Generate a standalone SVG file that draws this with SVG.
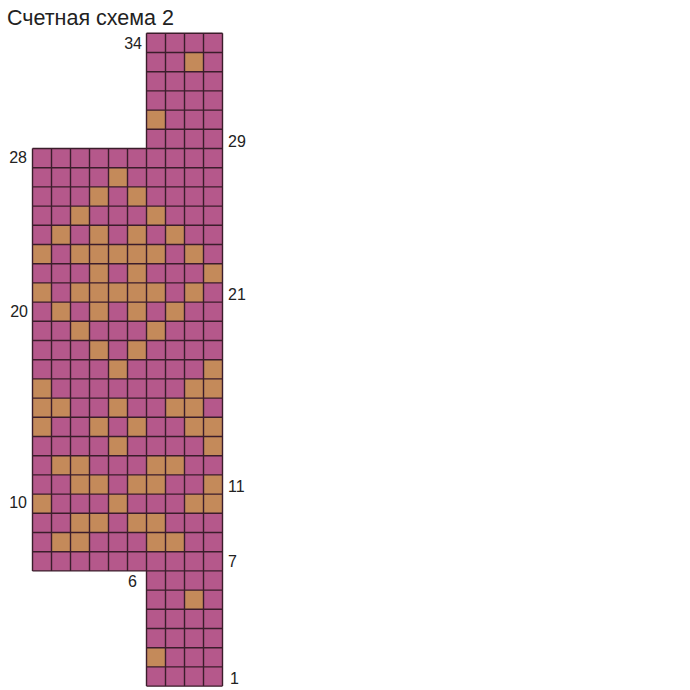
<svg xmlns="http://www.w3.org/2000/svg" width="690" height="690" viewBox="0 0 690 690">
<style>
.bg{fill:#b5588b}
.o{fill:#c48a5a}
.grid{fill:none;stroke:#3b1d2b;stroke-width:1.4}
.lbl{font-family:"Liberation Sans",Arial,sans-serif;font-size:16px;fill:#222}
.title{font-family:"Liberation Sans",Arial,sans-serif;font-size:21.5px;fill:#222}
</style>
<defs><rect id="c" width="19" height="19.2" class="o"/></defs>
<rect width="690" height="690" fill="#fff"/>
<text class="title" x="7" y="25">Счетная схема 2</text>
<g id="chart">
<rect class="bg" x="146.5" y="33.3" width="76" height="115.2"/>
<rect class="bg" x="32.5" y="148.5" width="190" height="422.4"/>
<rect class="bg" x="146.5" y="570.9" width="76" height="115.2"/>
<g id="tan">
<use href="#c" x="184.5" y="52.5"/>
<use href="#c" x="146.5" y="110.1"/>
<use href="#c" x="108.5" y="167.7"/>
<use href="#c" x="89.5" y="186.9"/><use href="#c" x="127.5" y="186.9"/>
<use href="#c" x="70.5" y="206.1"/><use href="#c" x="146.5" y="206.1"/>
<use href="#c" x="51.5" y="225.3"/><use href="#c" x="89.5" y="225.3"/><use href="#c" x="127.5" y="225.3"/><use href="#c" x="165.5" y="225.3"/>
<use href="#c" x="32.5" y="244.5"/><use href="#c" x="70.5" y="244.5"/><use href="#c" x="89.5" y="244.5"/><use href="#c" x="108.5" y="244.5"/><use href="#c" x="127.5" y="244.5"/><use href="#c" x="146.5" y="244.5"/><use href="#c" x="184.5" y="244.5"/>
<use href="#c" x="89.5" y="263.7"/><use href="#c" x="127.5" y="263.7"/><use href="#c" x="203.5" y="263.7"/>
<use href="#c" x="32.5" y="282.9"/><use href="#c" x="70.5" y="282.9"/><use href="#c" x="89.5" y="282.9"/><use href="#c" x="108.5" y="282.9"/><use href="#c" x="127.5" y="282.9"/><use href="#c" x="146.5" y="282.9"/><use href="#c" x="184.5" y="282.9"/>
<use href="#c" x="51.5" y="302.1"/><use href="#c" x="89.5" y="302.1"/><use href="#c" x="127.5" y="302.1"/><use href="#c" x="165.5" y="302.1"/>
<use href="#c" x="70.5" y="321.3"/><use href="#c" x="146.5" y="321.3"/>
<use href="#c" x="89.5" y="340.5"/><use href="#c" x="127.5" y="340.5"/>
<use href="#c" x="108.5" y="359.7"/><use href="#c" x="203.5" y="359.7"/>
<use href="#c" x="32.5" y="378.9"/><use href="#c" x="184.5" y="378.9"/><use href="#c" x="203.5" y="378.9"/>
<use href="#c" x="32.5" y="398.1"/><use href="#c" x="51.5" y="398.1"/><use href="#c" x="108.5" y="398.1"/><use href="#c" x="165.5" y="398.1"/><use href="#c" x="184.5" y="398.1"/>
<use href="#c" x="32.5" y="417.3"/><use href="#c" x="89.5" y="417.3"/><use href="#c" x="127.5" y="417.3"/><use href="#c" x="184.5" y="417.3"/><use href="#c" x="203.5" y="417.3"/>
<use href="#c" x="108.5" y="436.5"/><use href="#c" x="203.5" y="436.5"/>
<use href="#c" x="51.5" y="455.7"/><use href="#c" x="70.5" y="455.7"/><use href="#c" x="146.5" y="455.7"/><use href="#c" x="165.5" y="455.7"/>
<use href="#c" x="70.5" y="474.9"/><use href="#c" x="89.5" y="474.9"/><use href="#c" x="127.5" y="474.9"/><use href="#c" x="146.5" y="474.9"/><use href="#c" x="203.5" y="474.9"/>
<use href="#c" x="32.5" y="494.1"/><use href="#c" x="108.5" y="494.1"/><use href="#c" x="184.5" y="494.1"/><use href="#c" x="203.5" y="494.1"/>
<use href="#c" x="70.5" y="513.3"/><use href="#c" x="89.5" y="513.3"/><use href="#c" x="127.5" y="513.3"/><use href="#c" x="146.5" y="513.3"/>
<use href="#c" x="51.5" y="532.5"/><use href="#c" x="70.5" y="532.5"/><use href="#c" x="146.5" y="532.5"/><use href="#c" x="165.5" y="532.5"/>
<use href="#c" x="184.5" y="590.1"/>
<use href="#c" x="146.5" y="647.7"/>
</g>
<path class="grid" d="M146.5 33.3H222.5M146.5 52.5H222.5M146.5 71.7H222.5M146.5 90.9H222.5M146.5 110.1H222.5M146.5 129.3H222.5
M32.5 148.5H222.5M32.5 167.7H222.5M32.5 186.9H222.5M32.5 206.1H222.5M32.5 225.3H222.5M32.5 244.5H222.5M32.5 263.7H222.5M32.5 282.9H222.5M32.5 302.1H222.5M32.5 321.3H222.5M32.5 340.5H222.5M32.5 359.7H222.5M32.5 378.9H222.5M32.5 398.1H222.5M32.5 417.3H222.5M32.5 436.5H222.5M32.5 455.7H222.5M32.5 474.9H222.5M32.5 494.1H222.5M32.5 513.3H222.5M32.5 532.5H222.5M32.5 551.7H222.5M32.5 570.9H222.5
M146.5 590.1H222.5M146.5 609.3H222.5M146.5 628.5H222.5M146.5 647.7H222.5M146.5 666.9H222.5M146.5 686.1H222.5
M32.5 148.5V570.9M51.5 148.5V570.9M70.5 148.5V570.9M89.5 148.5V570.9M108.5 148.5V570.9M127.5 148.5V570.9
M146.5 33.3V686.1M165.5 33.3V686.1M184.5 33.3V686.1M203.5 33.3V686.1M222.5 33.3V686.1"/>
</g>
<g id="labels" class="lbl">
<text x="142" y="49" text-anchor="end">34</text>
<text x="228" y="147">29</text>
<text x="27" y="163" text-anchor="end">28</text>
<text x="228" y="300">21</text>
<text x="28" y="317" text-anchor="end">20</text>
<text x="228" y="492">11</text>
<text x="27" y="508" text-anchor="end">10</text>
<text x="228" y="567">7</text>
<text x="137" y="587" text-anchor="end">6</text>
<text x="230" y="684">1</text>
</g>
</svg>
